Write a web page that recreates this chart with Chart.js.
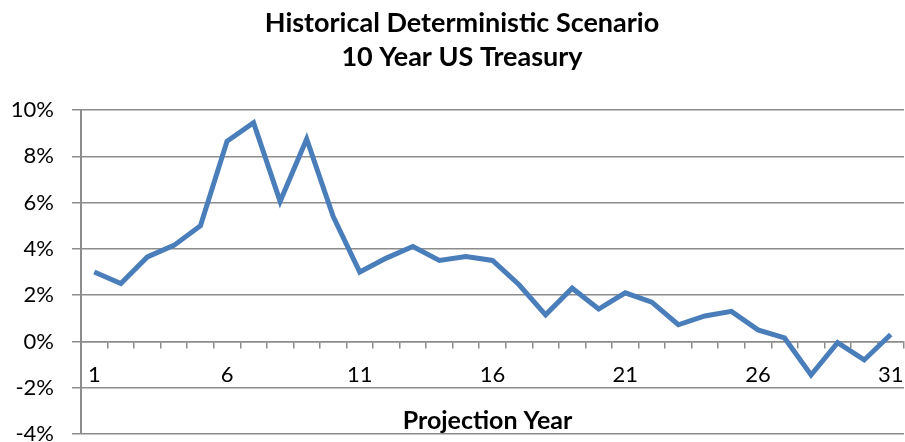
<!DOCTYPE html>
<html>
<head>
<meta charset="utf-8">
<script src="https://cdn.jsdelivr.net/npm/chart.js@4/dist/chart.umd.min.js"></script>
<style>
  html, body { margin: 0; padding: 0; background: #fff; }
  #wrap { width: 905px; height: 442px; }
</style>
</head>
<body>
<div id="wrap"><canvas id="myChart"></canvas></div>
<script>
// projection years shown on the category axis
var years = ['1','2','3','4','5','6','7','8','9','10','11','12','13','14','15','16',
             '17','18','19','20','21','22','23','24','25','26','27','28','29','30','31']
// 10 year treasury rate, percent
var rates = [3.0, 2.5, 3.65, 4.15, 5.0, 8.65, 9.45, 6.05, 8.75, 5.4,
             3.0, 3.6, 4.1, 3.5, 3.67, 3.5, 2.45, 1.15, 2.3, 1.4,
             2.1, 1.7, 0.72, 1.1, 1.3, 0.5, 0.15, -1.45, -0.05, -0.8, 0.3]
var yTicks = [-4, -2, 0, 2, 4, 6, 8, 10]
var titleLines = ['Historical Deterministic Scenario', '10 Year US Treasury']
var xTitle = 'Projection Year'

var gridGray = '#8c8c8c'

// chart title (centred a bit right of the canvas, like the original) and
// the axis title, which sits inside the plot above the bottom gridline
var textPlugin = {
    id: 'texts',
    afterDraw: function(chart){
        var ctx = chart.ctx
        var area = chart.chartArea
        ctx.save()
        ctx.fillStyle = '#000'
        ctx.textAlign = 'center'
        ctx.textBaseline = 'middle'
        ctx.font = 'bold 27px Lato'
        ctx.fillText(titleLines[0], 462, 23)
        ctx.fillText(titleLines[1], 462, 57)
        ctx.font = 'bold 25px Lato'
        ctx.fillText(xTitle, (area.left + area.right) / 2 - 5, area.bottom - 13)
        ctx.restore()
    }
}

var ctx = document.getElementById('myChart').getContext('2d')

var chart = new Chart(ctx, {
    type: 'line',
    data: {
        labels: years,
        datasets: [{
            label: '10 Year US Treasury',
            data: rates,
            borderColor: '#4a7ebb',
            borderWidth: 5,
            pointRadius: 0,
            tension: 0,
            borderJoinStyle: 'miter'
        }]
    },
    options: {
        responsive: true,
        maintainAspectRatio: false,
        animation: false,
        layout: { padding: { top: 110, right: 1, bottom: 8, left: 0 } },
        plugins: {
            legend: { display: false },
            tooltip: { enabled: false },
            title: { display: false }
        },
        scales: {
            x: {
                type: 'category',
                position: { y: 0 },
                offset: true,
                afterFit: function(s){
                    s.height = 0
                    s.paddingLeft = 0
                    s.paddingRight = 0
                },
                grid: {
                    offset: true,
                    drawOnChartArea: false,
                    drawTicks: true,
                    tickLength: 6,
                    color: gridGray,
                    lineWidth: 1.5
                },
                border: { display: true, color: gridGray, width: 1.5 },
                ticks: {
                    autoSkip: false,
                    maxRotation: 0,
                    padding: 14,
                    color: '#000',
                    font: { family: 'Lato', size: 22 },
                    callback: function(v, i){ return i % 5 === 0 ? years[i] : '' }
                }
            },
            y: {
                min: yTicks[0],
                max: yTicks[yTicks.length - 1],
                afterFit: function(s){
                    s.width = 81
                    s.paddingTop = 0
                    s.paddingBottom = 0
                },
                afterBuildTicks: function(s){
                    s.ticks = yTicks.map(function(v){ return { value: v } })
                },
                grid: {
                    color: gridGray,
                    lineWidth: 1.5,
                    tickLength: 9
                },
                border: { display: true, color: gridGray, width: 2 },
                ticks: {
                    padding: 18,
                    color: '#000',
                    font: { family: 'Lato', size: 22 },
                    callback: function(v){ return v + '%' }
                }
            }
        }
    },
    plugins: [textPlugin]
})
</script>
</body>
</html>
